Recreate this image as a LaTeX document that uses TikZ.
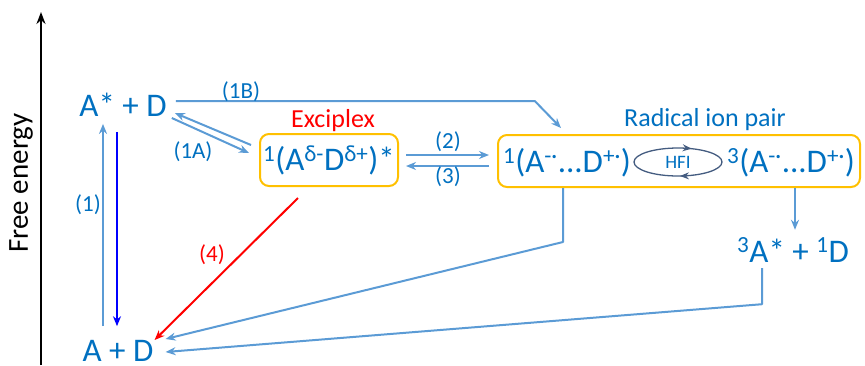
\documentclass[tikz,border=0pt]{standalone}
\usepackage{fontspec}
\setmainfont{Carlito}
\usetikzlibrary{arrows.meta,positioning,calc,decorations.markings}
\definecolor{txtblue}{RGB}{0,112,192}
\definecolor{arrblue}{RGB}{91,155,213}
\definecolor{boxorange}{RGB}{255,192,0}
\definecolor{hfigray}{RGB}{68,92,128}
\newcommand \myenergyaxis[3]
{
\coordinate (e1) at (#1,#2);
\coordinate (e2) at (#1,#3);
\draw[-{Stealth[length=12pt,width=9pt]},line width=2.2pt] (e1)--(e2);
}

\begin{document}
\begin{tikzpicture}[x=1pt, y=-1pt, line join=round,
  species/.style={text=txtblue, font=\fontsize{33}{33}\selectfont, inner sep=0pt},
  rate/.style={text=txtblue, font=\fontsize{23}{23}\selectfont, inner sep=0pt},
  title/.style={font=\fontsize{26}{26}\selectfont, inner sep=0pt},
  pairbox/.style={draw=boxorange, line width=2pt, rounded corners=9pt},
  flow/.style={arrblue, line width=2pt, -{Stealth[length=10pt,width=8pt]}}]
\useasboundingbox (0,0) rectangle (865,365);
\myenergyaxis{41}{365}{12}
\node[font=\fontsize{29}{29}\selectfont, rotate=90, inner sep=0pt] (axlabel) at (21,183) {Free energy};

% species
\node[species] (AsD) at (123,105) {A* + D};
\node[species] (AD) at (118,351) {A + D};
\node[species, pairbox, minimum width=138pt, minimum height=52pt] (exc) at (329,160)
  {\textsuperscript{1}(A\textsuperscript{δ-}D\textsuperscript{δ+})*};
\node[title, text=red] (exclabel) at (333,121) {Exciplex};
\node[pairbox, minimum width=362pt, minimum height=52pt] (rip) at (679,161) {};
\node[title, text=txtblue] (riplabel) at (705,120) {Radical ion pair};
\node[species] (sing) at (567,163) {\textsuperscript{1}(A\textsuperscript{-·}...D\textsuperscript{+·})};
\node[species] (trip) at (791,163) {\textsuperscript{3}(A\textsuperscript{-·}...D\textsuperscript{+·})};
\node[species] (tripAD) at (793,250) {\textsuperscript{3}A* + \textsuperscript{1}D};

% HFI loop
\node[text=txtblue, font=\fontsize{19}{19}\selectfont, inner sep=0pt] (hfi) at (678,162) {HFI};
\draw[hfigray, line width=1.3pt, postaction={decorate},
  decoration={markings,
    mark=at position 0.18 with {\arrowreversed{Stealth[length=9pt,width=7pt]}},
    mark=at position 0.76 with {\arrowreversed{Stealth[length=9pt,width=7pt]}}}]
  (hfi) ellipse (44pt and 14pt);

% (1) excitation and decay
\draw[flow] ([xshift=-15pt,yshift=14pt]AD.north) -- ([xshift=-20pt,yshift=-7pt]AsD.south);
\draw[blue, line width=2pt, -{Stealth[length=10pt,width=8pt]}] ([xshift=-6pt,yshift=-15pt]AsD.south) -- ([xshift=-1pt,yshift=14pt]AD.north);
\node[rate] (l1) at (88,205) {(1)};

% (1A)
\draw[flow] ([shift={(5pt,-13pt)}]AsD.east) -- ([shift={(-10pt,7pt)}]exc.west);
\draw[flow] ([shift={(-8pt,15pt)}]exc.west) -- ([shift={(8pt,-8pt)}]AsD.east);
\node[rate] (l1A) at (193,152) {(1A)};

% (1B)
\draw[flow] ([shift={(9pt,4pt)}]AsD.east) -- ++(359,0) -- ([shift={(64pt,6pt)}]rip.north west);
\node[rate] (l1B) at (241,92) {(1B)};

% (2) and (3)
\draw[flow] ([shift={(7pt,5pt)}]exc.east) -- ([shift={(-8pt,6pt)}]rip.west);
\draw[flow] ([shift={(-8pt,-5pt)}]rip.west) -- ([shift={(7pt,-6pt)}]exc.east);
\node[rate] (l2) at (448,142) {(2)};
\node[rate] (l3) at (448,177) {(3)};

% (4)
\draw[red, line width=2pt, -{Stealth[length=10pt,width=8pt]}] ([shift={(-31pt,-11pt)}]exc.south) -- ([shift={(1pt,11pt)}]AD.east);
\node[rate, text=red] (l4) at (212,255) {(4)};

% back to ground state
\draw[flow] ([xshift=-116pt]rip.south) -- ++(0,54) -- ([shift={(12pt,12pt)}]AD.east);
\draw[flow] ([xshift=116pt]rip.south) -- ([xshift=2pt,yshift=8pt]tripAD.north);
\draw[flow] ([shift={(-31pt,-6pt)}]tripAD.south) -- ++(0,36) -- ([shift={(12pt,-1pt)}]AD.east);
\end{tikzpicture}
\end{document}
